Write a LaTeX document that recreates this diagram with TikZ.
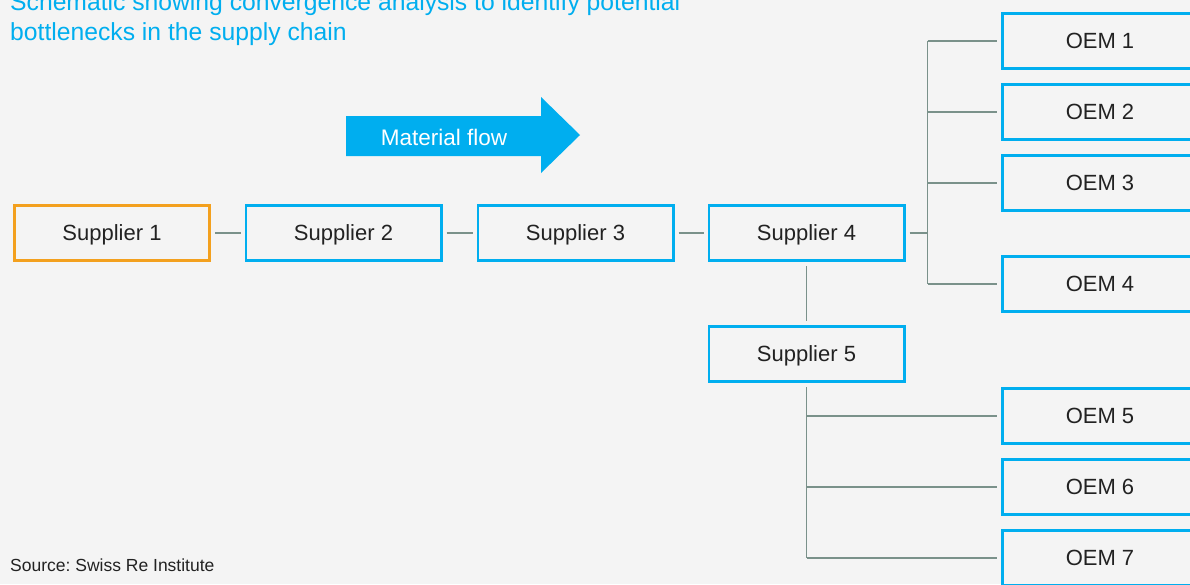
\documentclass[tikz,border=0pt]{standalone}
\usepackage{fontspec}
\setmainfont{Liberation Sans}
\usepackage{xcolor}
\usepackage{tikz}
\usetikzlibrary{calc}
\frenchspacing

\definecolor{srblue}{RGB}{0,174,239}
\definecolor{srorange}{RGB}{243,160,30}
\definecolor{linkgray}{RGB}{122,145,138}
\definecolor{bggray}{RGB}{244,244,244}
\definecolor{txtgray}{RGB}{34,34,34}

\tikzset{
	box/.style={draw=srblue,line width=2.6pt,minimum width=195.4pt,minimum height=55.4pt,inner sep=0pt,text height=15.8pt,text depth=0pt,text=txtgray,font=\fontsize{22}{26}\selectfont},
	link/.style={draw=linkgray,line width=1.4pt},
	heading/.style={anchor=base west,inner sep=0pt,text=srblue,font=\fontsize{24.7}{29}\selectfont}
}

\begin{document}
\begin{tikzpicture}[x=1pt,y=-1pt]
			\useasboundingbox (0,0) rectangle (1190,584);
			\fill[bggray] (0,0) rectangle (1190,584);
			\clip (0,0) rectangle (1190,584);
			\node[heading] (title1) at (10,10.5) {Schematic showing convergence analysis to identify potential};
			\node[heading] (title2) at (10,40) {bottlenecks in the supply chain};
			\fill[srblue] (346,116) -- (541,116) -- (541,97) -- (580,135) -- (541,173) -- (541,156) -- (346,156) -- cycle;
			\node[text=white,text height=16pt,text depth=0pt,font=\fontsize{22.5}{26}\selectfont] (flow) at (444,137) {Material flow};
			\node[box,draw=srorange] (s1) at (112,233) {Supplier 1};
			\node[box] (s2) at (343.5,233) {Supplier 2};
			\node[box] (s3) at (575.5,233) {Supplier 3};
			\node[box] (s4) at (806.5,233) {Supplier 4};
			\node[box] (s5) at (806.5,354) {Supplier 5};
			\foreach \i/\y in {1/41,2/112,3/183,4/284,5/416,6/487,7/558}{
				\node[box] (o\i) at (1100,\y) {OEM \i};
			}
			\draw[link,shorten <=4pt,shorten >=4pt] (s1) -- (s2);
			\draw[link,shorten <=4pt,shorten >=4pt] (s2) -- (s3);
			\draw[link,shorten <=4pt,shorten >=4pt] (s3) -- (s4);
			\coordinate (j4) at ($(s4.east)+(22,0)$);
			\draw[link,shorten <=4pt] (s4) -- (j4);
			\draw[link] (j4 |- o1) -- (j4 |- o4);
			\foreach \i in {1,...,4}{
				\draw[link,shorten >=4pt] (j4 |- o\i) -- (o\i);
			}
			\draw[link,shorten <=4pt,shorten >=4pt] (s4) -- (s5);
			\draw[link,shorten <=4pt] (s5) -- (s5 |- o7);
			\foreach \i in {5,6,7}{
				\draw[link,shorten >=4pt] (s5 |- o\i) -- (o\i);
			}
			\node[anchor=base west,inner sep=0pt,text=txtgray,font=\fontsize{17.5}{21}\selectfont] (source) at (10,571) {Source: Swiss Re Institute};
		\end{tikzpicture}
\end{document}
